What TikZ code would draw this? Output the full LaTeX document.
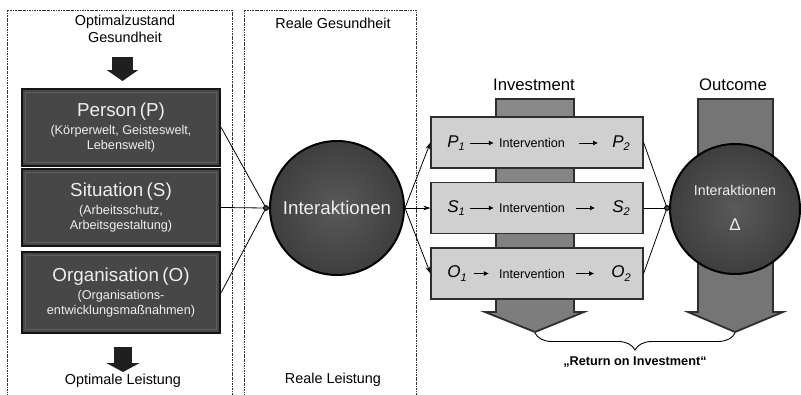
\documentclass[tikz,border=0pt]{standalone}
\usepackage{fontspec}
\setmainfont{Liberation Sans}
\usetikzlibrary{arrows.meta,decorations.pathreplacing,calc}

\definecolor{darkbox}{HTML}{474747}
\definecolor{darkedge}{HTML}{141414}
\definecolor{innerband}{HTML}{5E5E5E}
\definecolor{lighttext}{HTML}{EEEEEE}
\definecolor{lightbox}{HTML}{D0D0D0}
\definecolor{stageedge}{HTML}{2E2E2E}
\definecolor{framegray}{HTML}{333333}
\definecolor{invfill}{HTML}{7C7C7C}
\definecolor{outfill}{HTML}{8A8A8A}
\definecolor{coledge}{HTML}{2E2E2E}
\definecolor{circin}{HTML}{5A5A5A}
\definecolor{circout}{HTML}{3E3E3E}

\newcommand\fsz[2]{\fontsize{#1}{#2}\selectfont}

\begin{document}
\begin{tikzpicture}[x=1pt,y=-1pt,
  every node/.style={inner sep=0pt},
  frame/.style={draw=framegray, line width=0.8pt, dash pattern=on 2.2pt off 1pt on 0.6pt off 1pt},
  lbl/.style={font=\fsz{14.4}{17}, align=center},
  factor/.style={draw=darkedge, line width=2.4pt, fill=darkbox, minimum width=198pt,
    text width=190pt, align=center, text=lighttext},
  stage/.style={draw=stageedge, line width=1.2pt, fill=lightbox, minimum width=212pt, minimum height=51pt},
  ring/.style={circle, draw=black, line width=2pt, inner color=circin, outer color=circout, text=lighttext},
  column/.style={draw=coledge, line width=1.8pt},
  link/.style={draw=black, line width=0.8pt},
  outarrow/.style={link, -{Stealth[length=7pt,width=4.5pt]}},
  sym/.style={font=\fsz{17}{20}\itshape},
  iv/.style={font=\fsz{12.6}{15}},
  inarrow/.style={draw=black, line width=0.9pt, -{Latex[length=5pt,width=5pt]}}
]
\useasboundingbox (0,0) rectangle (801,394);

% dashed column frames
\draw[frame] (7,396) -- (7,10) -- (232,10) -- (232,396);
\draw[frame] (244,396) -- (244,10) -- (416,10) -- (416,396);

% column headings and footers
\node[lbl] (optg) at (125,28.5) {Optimalzustand\\Gesundheit};
\node[lbl] (optl) at (123,381) {Optimale Leistung};
\node[lbl] (realg) at (333,23) {Reale Gesundheit};
\node[lbl] (reall) at (333,380) {Reale Leistung};

% three factors
\node[factor, minimum height=77pt] (person) at (121,127.5)
  {\fsz{18.8}{21}Person (P)\par\vspace{3pt}\fsz{12.7}{15}(Körperwelt, Geisteswelt,\\[3pt]Lebenswelt)};
\node[factor, minimum height=77pt] (situation) at (121,207.5)
  {\fsz{18.8}{21}Situation (S)\par\vspace{3pt}\fsz{12.7}{15}(Arbeitsschutz,\\[3pt]Arbeitsgestaltung)};
\node[factor, minimum height=81pt] (orga) at (121,292.5)
  {\fsz{18.8}{21}Organisation (O)\par\vspace{3pt}\fsz{12.7}{15}(Organisations-\\[3pt]entwicklungsmaßnahmen)};
\foreach \b in {person,situation,orga}{
  \draw[innerband, line width=1.5pt] ($(\b.north west)+(4.5,4.5)$) rectangle ($(\b.south east)+(-4.5,-4.5)$);
}

% block arrows above and below the factors
\coordinate (a1s) at (122.5,57);
\coordinate (a1e) at (122.5,81);
\draw[line width=21pt, black!88, -{Triangle[width=31pt,length=11pt]}] (a1s) -- (a1e);
\coordinate (a2s) at (123,347);
\coordinate (a2e) at (123,372);
\draw[line width=18pt, black!88, -{Triangle[width=33pt,length=9pt]}] (a2s) -- (a2e);

% investment and outcome columns
\path[column, top color=invfill!90!white, bottom color=invfill]
  (496,99) -- (574,99) -- (574,312) -- (584,312) -- (535,332) -- (485,312) -- (496,312) -- cycle;
\path[column, left color=outfill!85!black, middle color=outfill!85!white, right color=outfill!85!black]
  (698,99) -- (773,99) -- (773,312) -- (783,312) -- (735,332) -- (688,312) -- (698,312) -- cycle;
\coordinate (invtip) at (535,333);
\coordinate (outtip) at (735,333);
\node[font=\fsz{16.7}{19}] (invlbl) at (534,85) {Investment};
\node[font=\fsz{16.7}{19}] (outlbl) at (733,85) {Outcome};

% interaction circles
\node[ring, minimum size=134pt, font=\fsz{18.7}{22}] (inter) at (337,208) {Interaktionen};
\node[ring, minimum size=130pt] (delta) at (735,209) {};
\node[font=\fsz{14.2}{17}, text=lighttext] (dlbl) at ($(delta.center)+(0,-19)$) {Interaktionen};
\node[font=\fsz{17}{20}, text=lighttext] (dsym) at ($(delta.center)+(0,16)$) {Δ};

% junctions
\coordinate (j1) at (266,208);
\coordinate (j2) at (667,208);
\draw[link] (person.east) -- (j1);
\draw[link] (situation.east) -- (j1);
\draw[link] (orga.east) -- (j1);
\draw[line width=0.8pt, fill=circout] (j1) circle (2.5);

% intervention stages
\node[stage] (pbox) at (537,142.5) {};
\node[stage] (sbox) at (537,208) {};
\node[stage] (obox) at (537,273.5) {};

\draw[outarrow] (inter.east) -- (pbox.west);
\draw[outarrow] (inter.east) -- (sbox.west);
\draw[outarrow] (inter.east) -- (obox.west);

\draw[link] (pbox.east) -- (j2);
\draw[link] (sbox.east) -- (j2);
\draw[link] (obox.east) -- (j2);
\draw[line width=0.8pt, fill=circout] (j2) circle (2.5);

% stage contents
\node[sym] (p1) at (456,143) {P\raisebox{-0.35ex}{\fsz{11}{13}1}};
\node[iv] (ivp) at (532,143) {Intervention};
\node[sym] (p2) at (621,143) {P\raisebox{-0.35ex}{\fsz{11}{13}2}};
\node[sym] (s1) at (456,208) {S\raisebox{-0.35ex}{\fsz{11}{13}1}};
\node[iv] (ivs) at (532,208) {Intervention};
\node[sym] (s2) at (621,208) {S\raisebox{-0.35ex}{\fsz{11}{13}2}};
\node[sym] (o1) at (457,273.5) {O\raisebox{-0.35ex}{\fsz{11}{13}1}};
\node[iv] (ivo) at (532,273.5) {Intervention};
\node[sym] (o2) at (621,273.5) {O\raisebox{-0.35ex}{\fsz{11}{13}2}};

\draw[inarrow, shorten <=5pt, shorten >=5pt] (p1) -- (ivp);
\draw[inarrow, shorten <=14pt, shorten >=14pt] (ivp) -- (p2);
\draw[inarrow, shorten <=5pt, shorten >=5pt] (s1) -- (ivs);
\draw[inarrow, shorten <=11pt, shorten >=17pt] (ivs) -- (s2);
\draw[inarrow, shorten <=7pt, shorten >=10pt] (o1) -- (ivo);
\draw[inarrow, shorten <=11pt, shorten >=17pt] (ivo) -- (o2);

% return on investment
\draw[line width=0.9pt, decorate, decoration={brace, mirror, amplitude=17pt}] (invtip) -- (outtip);
\node[font=\fsz{12.7}{15}\bfseries] (roi) at (635,362) {„Return on Investment“};
\end{tikzpicture}
\end{document}
